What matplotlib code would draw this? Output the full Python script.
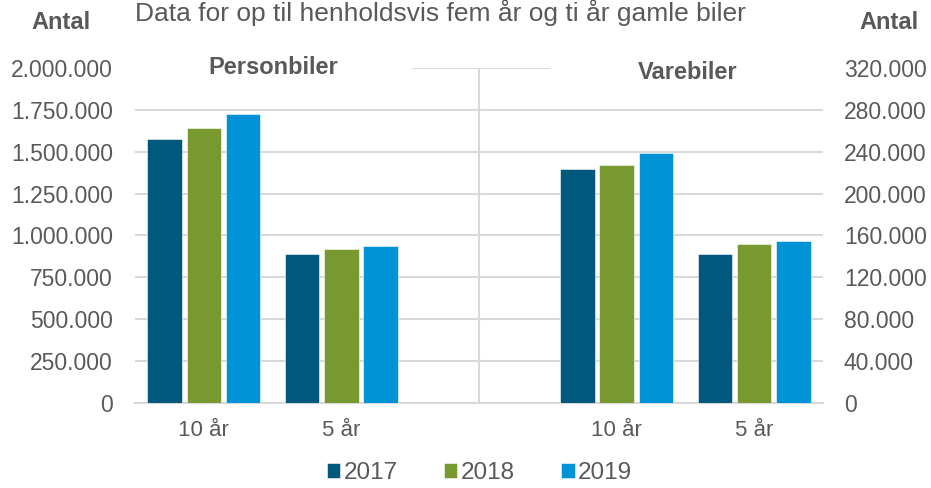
import matplotlib.pyplot as plt
import numpy as np

plt.rcParams['font.family'] = ['Liberation Sans', 'DejaVu Sans']

years = ['2017', '2018', '2019']
categories = ['10 år', '5 år', '10 år', '5 år']

# Personbiler (left axis): 10 år, 5 år
person_2017 = [1575000, 890000]
person_2018 = [1641000, 922000]
person_2019 = [1725000, 938000]

# Varebiler (right axis): 10 år, 5 år
vare_2017 = [223400, 142400]
vare_2018 = [227000, 151400]
vare_2019 = [239000, 154600]

left_ticks = np.arange(0, 2000001, 250000)
right_ticks = np.arange(0, 320001, 40000)

colors = ['#00587C', '#77992F', '#0092D6']
grid_color = '#D9D9D9'
text_color = '#595959'


def fmt(v):
    return f'{int(v):,}'.replace(',', '.')


fig = plt.figure(figsize=(9.31, 4.88), dpi=100)
ax = fig.add_axes([0.145, 0.174, 0.739, 0.687])
ax2 = ax.twinx()

width = 0.25
offset = 0.285
x_person = np.array([0, 1])
x_vare = np.array([3, 4])

for i, vals in enumerate([person_2017, person_2018, person_2019]):
    ax.bar(x_person + (i - 1) * offset, vals, width, color=colors[i],
           edgecolor='white', linewidth=0.4, label=years[i], zorder=3)
for i, vals in enumerate([vare_2017, vare_2018, vare_2019]):
    ax2.bar(x_vare + (i - 1) * offset, vals, width, color=colors[i],
            edgecolor='white', linewidth=0.4, zorder=3)

ax.set_xlim(-0.5, 4.5)
ax2.set_xlim(-0.5, 4.5)
ax.set_ylim(0, 2000000)
ax2.set_ylim(0, 320000)

ax.set_yticks(left_ticks)
ax.set_yticklabels([fmt(v) for v in left_ticks])
ax2.set_yticks(right_ticks)
ax2.set_yticklabels([fmt(v) for v in right_ticks])
ax.set_xticks([0, 1, 3, 4])
ax.set_xticklabels(categories)

ax.set_axisbelow(True)
ax.grid(axis='y', color=grid_color, linewidth=1.5)
ax.get_ygridlines()[-1].set_visible(False)
ax.axhline(2000000, xmin=0.404, xmax=0.602, color=grid_color, linewidth=1.5, zorder=1)
ax.axvline(2, color=grid_color, linewidth=1.5, zorder=1)

for a in (ax, ax2):
    for s in a.spines.values():
        s.set_visible(False)
    a.tick_params(length=0, labelsize=16.5, colors=text_color)
ax.spines['bottom'].set_visible(True)
ax.spines['bottom'].set_color(grid_color)
ax.spines['bottom'].set_linewidth(1.5)
ax.tick_params(axis='y', pad=16)
ax2.tick_params(axis='y', pad=15)
ax.tick_params(axis='x', pad=12, labelsize=16)

ax.text(0.503, 2000000, 'Personbiler', ha='center', va='center', fontsize=17,
        fontweight='bold', color=text_color)
ax.text(3.52, 1975000, 'Varebiler', ha='center', va='center', fontsize=17,
        fontweight='bold', color=text_color)

fig.text(0.065, 0.953, 'Antal', ha='center', va='center', fontsize=17,
         fontweight='bold', color=text_color)
fig.text(0.955, 0.953, 'Antal', ha='center', va='center', fontsize=17,
         fontweight='bold', color=text_color)
fig.text(0.473, 0.956, 'Data for op til henholdsvis fem år og ti år gamle biler',
         ha='center', va='baseline', fontsize=19, color=text_color)

fig.legend(loc='center', bbox_to_anchor=(0.515, 0.03), ncol=3, frameon=False,
           fontsize=17.5, handlelength=0.55, handleheight=0.55, handletextpad=0.15,
           columnspacing=1.9, labelcolor=text_color)

fig.savefig('out.png', dpi=100)
